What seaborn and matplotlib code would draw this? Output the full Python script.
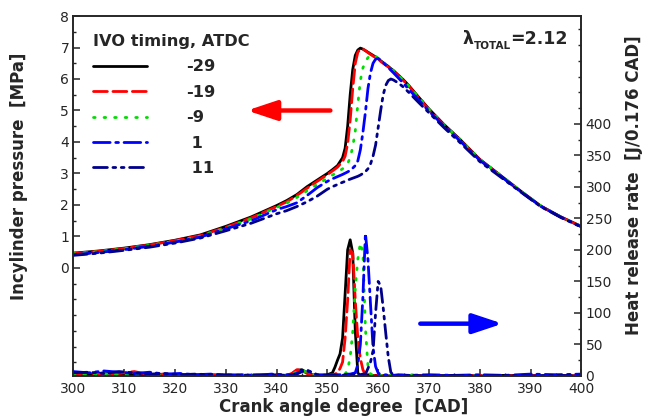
import numpy as np
import pandas as pd
import seaborn as sns
import matplotlib
matplotlib.use('Agg')
import matplotlib.pyplot as plt
from matplotlib.ticker import FixedLocator, MultipleLocator

# IVO timings (ATDC) and how each one is drawn
ivo_labels = ['-29', '-19', '-9', ' 1', ' 11']
colors = ['black', '#ff0000', '#00dd00', '#0000ff', '#00008b']
styles = ['-', (0, (5, 2)), (0, (0.6, 3.2)), (0, (6, 2, 1, 2)), (0, (5, 2, 1, 2, 1, 2))]

# crank angle grid for cylinder pressure [CAD]
ca_p = [300, 305, 310, 315, 320, 325, 330, 335, 340, 342, 344, 346, 348, 350, 351, 352,
        353, 353.5, 354, 354.5, 355, 355.5, 356, 356.5, 357, 357.5, 358, 358.5, 359, 359.5,
        360, 360.5, 361, 361.5, 362, 362.5, 363, 364, 365, 366, 368, 370, 373, 376, 380,
        384, 388, 392, 396, 400]

p_m29 = [0.47, 0.54, 0.63, 0.74, 0.88, 1.05, 1.32, 1.62, 1.98, 2.14, 2.33, 2.58, 2.79, 3.0, 3.12, 3.25,
         3.5, 3.8, 4.5, 5.5, 6.3, 6.75, 6.92, 6.98, 6.95, 6.9, 6.85, 6.8, 6.75, 6.7,
         6.65, 6.58, 6.52, 6.46, 6.4, 6.33, 6.27, 6.12, 5.97, 5.8, 5.42, 5.05, 4.55, 4.1, 3.45,
         2.95, 2.45, 1.97, 1.62, 1.32]
p_m19 = [0.46, 0.53, 0.62, 0.73, 0.87, 1.03, 1.29, 1.59, 1.95, 2.1, 2.3, 2.53, 2.75, 2.96, 3.08, 3.2,
         3.38, 3.55, 3.95, 4.7, 5.7, 6.5, 6.85, 6.95, 6.95, 6.9, 6.84, 6.78, 6.73, 6.68,
         6.63, 6.56, 6.5, 6.44, 6.38, 6.31, 6.25, 6.1, 5.95, 5.78, 5.4, 5.03, 4.53, 4.08, 3.44,
         2.94, 2.44, 1.96, 1.61, 1.31]
p_m9 = [0.45, 0.52, 0.61, 0.72, 0.85, 1.01, 1.27, 1.56, 1.92, 2.06, 2.24, 2.45, 2.65, 2.85, 2.95, 3.04,
        3.15, 3.22, 3.32, 3.5, 3.85, 4.35, 5.2, 5.95, 6.35, 6.55, 6.68, 6.74, 6.75, 6.72,
        6.66, 6.59, 6.52, 6.46, 6.4, 6.33, 6.26, 6.11, 5.96, 5.79, 5.41, 5.04, 4.54, 4.09, 3.45,
        2.95, 2.45, 1.97, 1.62, 1.32]
p_p1 = [0.42, 0.49, 0.58, 0.69, 0.82, 0.98, 1.24, 1.5, 1.85, 1.95, 2.07, 2.3, 2.55, 2.75, 2.83, 2.9,
        2.97, 3.01, 3.05, 3.1, 3.17, 3.25, 3.4, 3.75, 4.3, 4.95, 5.7, 6.2, 6.5, 6.63,
        6.65, 6.6, 6.52, 6.44, 6.36, 6.28, 6.2, 6.03, 5.86, 5.68, 5.33, 4.98, 4.5, 4.05, 3.42,
        2.93, 2.43, 1.96, 1.61, 1.31]
p_p11 = [0.40, 0.47, 0.56, 0.66, 0.79, 0.95, 1.18, 1.42, 1.72, 1.82, 1.95, 2.1, 2.28, 2.5, 2.58, 2.65,
         2.72, 2.75, 2.79, 2.82, 2.85, 2.88, 2.91, 2.95, 3.0, 3.06, 3.15, 3.3, 3.55, 3.9,
         4.45, 5.0, 5.5, 5.8, 5.95, 6.0, 5.97, 5.87, 5.74, 5.58, 5.25, 4.93, 4.45, 4.0, 3.38,
         2.9, 2.42, 1.95, 1.6, 1.3]

# crank angle grid for heat release rate
ca_h = [300, 303, 306, 309, 312, 315, 318, 321, 324, 327, 330, 333, 336, 339, 342, 343, 344, 345,
        346, 347, 348, 350, 351, 351.5, 352, 352.5, 353, 353.5, 354, 354.5, 355, 355.5, 356,
        356.5, 357, 357.5, 358, 358.5, 359, 359.5, 360, 360.5, 361, 361.5, 362, 362.5, 363,
        364, 366, 370, 375, 380, 385, 390, 395, 400]

hrr_m29 = [4, 2, 5, 3, 2, 1, 3, 2, 1, 2, 1, 0, 1, 2, 1, 3, 9, 10,
           5, 2, 1, 2, 5, 14, 25, 35, 60, 130, 200, 216, 195, 72, 5,
           0, 0, 1, 2, 1, 0, 1, 1, 0, 0, 1, 0, 0, 1,
           0, 1, 0, 1, 0, 1, 0, 1, 0]
hrr_m19 = [3, 5, 2, 4, 7, 2, 3, 1, 2, 1, 2, 1, 0, 1, 1, 4, 10, 9,
           4, 1, 1, 1, 2, 3, 5, 12, 22, 60, 120, 200, 195, 120, 60,
           28, 10, 2, 1, 0, 1, 0, 1, 0, 1, 0, 0, 1, 0,
           1, 0, 1, 0, 1, 0, 1, 0, 1]
hrr_m9 = [2, 3, 4, 2, 1, 3, 2, 1, 2, 0, 1, 2, 1, 0, 1, 2, 7, 9,
          6, 2, 1, 1, 1, 1, 2, 2, 3, 3, 10, 30, 70, 140, 185,
          211, 195, 75, 15, 3, 2, 1, 2, 1, 0, 1, 2, 1, 0,
          1, 2, 1, 0, 1, 0, 1, 0, 1]
hrr_p1 = [7, 5, 8, 6, 4, 6, 3, 4, 2, 3, 1, 2, 1, 3, 2, 2, 4, 8,
          9, 5, 2, 1, 2, 1, 2, 2, 3, 2, 3, 3, 4, 5, 18,
          50, 125, 226, 185, 114, 45, 15, 5, 2, 1, 2, 1, 2, 1,
          2, 1, 2, 1, 2, 1, 3, 2, 3]
hrr_p11 = [5, 6, 4, 7, 5, 3, 4, 2, 3, 2, 2, 1, 2, 1, 1, 1, 3, 7,
           9, 6, 2, 1, 1, 2, 1, 2, 1, 2, 2, 1, 2, 2, 3,
           2, 3, 3, 12, 22, 40, 100, 150, 143, 108, 68, 30, 6, 1,
           0, 1, 0, 1, 0, 1, 0, 1, 0]

pressures = [p_m29, p_m19, p_m9, p_p1, p_p11]
hrrs = [hrr_m29, hrr_m19, hrr_m9, hrr_p1, hrr_p11]

sns.set_style('ticks')
plt.rcParams['font.family'] = ['DejaVu Sans']
plt.rcParams['axes.linewidth'] = 1.2

fig = plt.figure(figsize=(6.46, 4.18), dpi=100)
ax = fig.add_axes([0.1135, 0.1005, 0.7864, 0.8612])
ax2 = ax.twinx()

for lab, col, ls, p, h in zip(ivo_labels, colors, styles, pressures, hrrs):
    sns.lineplot(x=ca_p, y=p, ax=ax, color=col, linestyle=ls, lw=2.0,
                 sort=False, label=lab, dash_capstyle='round')
    sns.lineplot(x=ca_h, y=h, ax=ax2, color=col, linestyle=ls, lw=2.0,
                 sort=False, legend=False, dash_capstyle='round')

ax.set_xlim(300, 400)
ax.set_ylim(-3.43, 8)
ax2.set_ylim(0, 571)

ax.xaxis.set_major_locator(MultipleLocator(10))
ax.xaxis.set_minor_locator(MultipleLocator(5))
ax.yaxis.set_major_locator(FixedLocator(list(range(0, 9))))
ax.yaxis.set_minor_locator(FixedLocator(np.arange(-3, 8.01, 0.5)))
ax2.yaxis.set_major_locator(FixedLocator(list(range(0, 401, 50))))
ax2.yaxis.set_minor_locator(MultipleLocator(25))

for a in (ax, ax2):
    a.tick_params(which='major', direction='in', length=5, width=1.1, labelsize=10, pad=3)
    a.tick_params(which='minor', direction='in', length=2.5, width=1.0)
ax.tick_params(axis='y', which='both', right=False)
ax.tick_params(axis='x', pad=4)
ax2.tick_params(axis='x', which='both', top=False)

bold = dict(fontsize=12, fontweight='bold')
ax.set_xlabel('Crank angle degree  [CAD]', **bold)
ax.xaxis.set_label_coords(0.533, -0.062)
ax.set_ylabel('Incylinder pressure  [MPa]', **bold)
ax.yaxis.set_label_coords(-0.09, 0.556)
ax2.set_ylabel('Heat release rate  [J/0.176 CAD]', rotation=90, **bold)
ax2.yaxis.set_label_coords(1.085, 0.53)

leg = ax.legend(loc='upper left', bbox_to_anchor=(0.026, 0.968), frameon=False,
                title='IVO timing, ATDC', alignment='left',
                title_fontproperties={'weight': 'bold', 'size': 11.7},
                prop={'weight': 'bold', 'size': 11.7},
                handlelength=3.3, handletextpad=2.4, labelspacing=0.64, borderaxespad=0)

# lambda annotation
t1 = ax.text(0.766, 0.922, 'λ', transform=ax.transAxes, fontsize=12.5, fontweight='bold')
t2 = ax.annotate('TOTAL', xy=(1, 0), xycoords=t1, xytext=(0, -2), textcoords='offset points',
                 fontsize=7.5, fontweight='bold', va='bottom')
ax.annotate('=2.12', xy=(1, 0), xycoords=(t2, t1), fontsize=12.5, fontweight='bold', va='bottom')

# arrows pointing to the matching axis
head = '-|>,head_length=1.8,head_width=0.6'
ax.annotate('', xy=(334.2, 5.0), xytext=(350.6, 5.0),
            arrowprops=dict(arrowstyle=head, color='#ff0000', lw=3.2, mutation_scale=10,
                            shrinkA=0, shrinkB=0))
ax2.annotate('', xy=(384.5, 83), xytext=(368.3, 83),
             arrowprops=dict(arrowstyle=head, color='#0000ff', lw=3.2, mutation_scale=10,
                             shrinkA=0, shrinkB=0))

fig.savefig('out.png', dpi=100)
